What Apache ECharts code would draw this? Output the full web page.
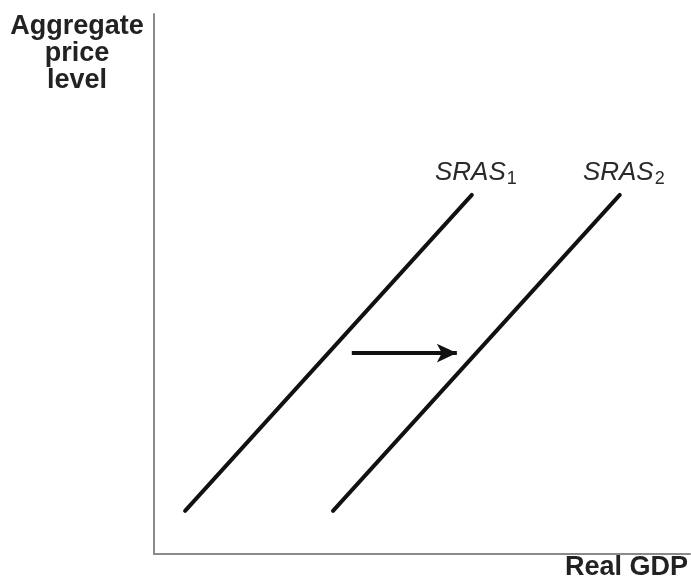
<!DOCTYPE html>
<html><head><meta charset="utf-8">
<script src="https://cdn.jsdelivr.net/npm/echarts@6/dist/echarts.min.js"></script>
<style>html,body{margin:0;padding:0;background:#fff}#c{width:691px;height:587px}</style>
</head><body><div id="c"></div>
<script>
var sras1 = [[5.8, 8.0], [59.3, 66.5]];
var sras2 = [[33.4, 8.0], [86.9, 66.5]];
var shiftArrow = [[36.9, 37.2], [56.5, 37.2]];
var curveNames = ['SRAS', 'SRAS'];
var curveSubs = ['1', '2'];
var yTitle = 'Aggregate\nprice\nlevel';
var xTitle = 'Real GDP';

var chart = echarts.init(document.getElementById('c'), null, {renderer: 'canvas'});
var FONT = '"Liberation Sans", Arial, sans-serif';
function curve(data) {
  return {
    type: 'line', data: data, symbol: 'none', silent: true,
    lineStyle: {color: '#111', width: 4, cap: 'round'}
  };
}
var labelData = [
  {value: sras1[sras1.length - 1], name: curveNames[0], sub: curveSubs[0]},
  {value: sras2[sras2.length - 1], name: curveNames[1], sub: curveSubs[1]}
];
chart.setOption({
  animation: false,
  grid: {left: 154, right: 1, top: 14, bottom: 33},
  xAxis: {type: 'value', min: 0, max: 100, axisLine: {show: true, lineStyle: {color: '#8a8a8a', width: 2}},
    axisTick: {show: false}, axisLabel: {show: false}, splitLine: {show: false}},
  yAxis: {type: 'value', min: 0, max: 100, axisLine: {show: true, lineStyle: {color: '#8a8a8a', width: 2}},
    axisTick: {show: false}, axisLabel: {show: false}, splitLine: {show: false}},
  series: [
    curve(sras1),
    curve(sras2),
    {
      type: 'scatter', silent: true, symbolSize: 1, itemStyle: {color: 'rgba(0,0,0,0)', opacity: 1},
      data: labelData.map(function (d) {
        return {value: d.value, name: d.name + d.sub, label: {formatter: '{a|' + d.name + '}{s|' + d.sub + '}'}};
      }),
      label: {
        show: true, position: 'top', distance: 6, offset: [4, 0], color: '#2a2a2a', opacity: 1,
        rich: {
          a: {fontFamily: FONT, fontStyle: 'italic', fontSize: 26, color: '#2a2a2a'},
          s: {fontFamily: FONT, fontSize: 18, color: '#2a2a2a', verticalAlign: 'bottom', padding: [14, 0, 0, 1]}
        }
      }
    },
    {
      type: 'line', data: [], silent: true,
      markLine: {
        silent: true, symbol: ['none', 'arrow'], symbolSize: [14, 20],
        lineStyle: {color: '#111', width: 4, type: 'solid'},
        label: {show: false},
        data: [[{coord: shiftArrow[0]}, {coord: shiftArrow[1]}]]
      }
    }
  ],
  graphic: [
    {type: 'text', x: 77, y: 13, style: {text: yTitle, fontFamily: FONT, fontWeight: 'bold', fontSize: 27,
      lineHeight: 27, fill: '#222', align: 'center', textAlign: 'center'}},
    {type: 'text', right: 3, top: 554, style: {text: xTitle, fontFamily: FONT, fontWeight: 'bold', fontSize: 27, fill: '#222'}}
  ]
});
</script></body></html>
